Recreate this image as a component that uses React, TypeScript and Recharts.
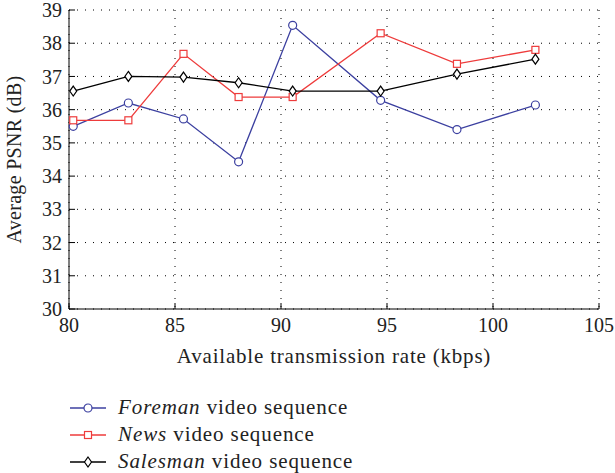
import { CartesianGrid, Line, LineChart, XAxis, YAxis } from "recharts";

const rates = [80.2, 82.8, 85.4, 88.0, 90.55, 94.7, 98.3, 102.0];
const foreman = [35.5, 36.2, 35.72, 34.43, 38.54, 36.28, 35.4, 36.14];
const news = [35.68, 35.68, 37.68, 36.38, 36.38, 38.3, 37.38, 37.8];
const salesman = [36.56, 37.0, 36.98, 36.81, 36.56, 36.56, 37.07, 37.52];

const xTicks = [80, 85, 90, 95, 100, 105];
const yTicks = [30, 31, 32, 33, 34, 35, 36, 37, 38, 39];

const BLUE = "#3c40a0";
const RED = "#ee3b3b";
const BLACK = "#000000";
const FONT = "Liberation Serif";
const TEXT = "#222";

const data = rates.map((rate, i) => ({
  rate,
  foreman: foreman[i],
  news: news[i],
  salesman: salesman[i],
}));

const circleDot = (props: any) => {
  const { cx, cy, index } = props;
  if (cx == null || cy == null) return <g key={index} />;
  return <circle key={index} cx={cx} cy={cy} r={4} fill="#fff" stroke={BLUE} strokeWidth={1.2} />;
};

const squareDot = (props: any) => {
  const { cx, cy, index } = props;
  if (cx == null || cy == null) return <g key={index} />;
  return <rect key={index} x={cx - 3.5} y={cy - 3.5} width={7} height={7} fill="#fff" stroke={RED} strokeWidth={1.2} />;
};

const diamondDot = (props: any) => {
  const { cx, cy, index } = props;
  if (cx == null || cy == null) return <g key={index} />;
  return (
    <path
      key={index}
      d={`M${cx},${cy - 5} L${cx + 3.5},${cy} L${cx},${cy + 5} L${cx - 3.5},${cy} Z`}
      fill="#fff"
      stroke={BLACK}
      strokeWidth={1.2}
    />
  );
};

const legendItems = [
  { name: "Foreman", color: BLUE, marker: "circle" },
  { name: "News", color: RED, marker: "square" },
  { name: "Salesman", color: BLACK, marker: "diamond" },
];

function LegendMarker({ color, marker }: { color: string; marker: string }) {
  return (
    <svg width={36} height={14} style={{ display: "block" }}>
      <line x1={0} y1={7} x2={36} y2={7} stroke={color} strokeWidth={1.3} />
      {marker === "circle" && <circle cx={18} cy={7} r={4} fill="#fff" stroke={color} strokeWidth={1.2} />}
      {marker === "square" && <rect x={14.5} y={3.5} width={7} height={7} fill="#fff" stroke={color} strokeWidth={1.2} />}
      {marker === "diamond" && <path d="M18,2 L21.5,7 L18,12 L14.5,7 Z" fill="#fff" stroke={color} strokeWidth={1.2} />}
    </svg>
  );
}

const yLabel = (props: any) => {
  const vb = props.viewBox || {};
  const x = (vb.x || 0) + 16;
  const y = (vb.y || 0) + (vb.height || 0) / 2;
  return (
    <text
      x={x}
      y={y}
      transform={`rotate(-90 ${x} ${y})`}
      textAnchor="middle"
      dominantBaseline="middle"
      fill={TEXT}
      style={{ fontFamily: FONT, fontSize: 20, letterSpacing: 0.3 }}
    >
      Average PSNR (dB)
    </text>
  );
};

export default function App() {
  return (
    <div style={{ position: "absolute", left: 0, top: 0, width: 615, height: 473, background: "#fff" }}>
      <LineChart width={615} height={380} data={data} margin={{ top: 10, right: 16, left: 0, bottom: 0 }}>
        <CartesianGrid stroke="#000" strokeDasharray="1 7" strokeWidth={1} />
        <XAxis
          dataKey="rate"
          type="number"
          domain={[80, 105]}
          ticks={xTicks}
          interval={0}
          height={71}
          tickSize={-6}
          tickMargin={15}
          axisLine={{ stroke: "#000" }}
          tickLine={{ stroke: "#000" }}
          tick={{ fill: TEXT, fontSize: 20, style: { fontFamily: FONT } }}
          label={{
            value: "Available transmission rate (kbps)",
            position: "insideBottom",
            offset: 17,
            fill: TEXT,
            fontSize: 21,
            style: { fontFamily: FONT, letterSpacing: 0.8 },
          }}
        />
        <XAxis
          xAxisId="top"
          orientation="top"
          type="number"
          domain={[80, 105]}
          ticks={xTicks}
          interval={0}
          height={0}
          tickSize={-6}
          tick={false}
          axisLine={{ stroke: "#000" }}
          tickLine={{ stroke: "#000" }}
        />
        <YAxis
          type="number"
          domain={[30, 39]}
          ticks={yTicks}
          interval={0}
          width={69}
          tickSize={-6}
          tickMargin={13}
          axisLine={{ stroke: "#000" }}
          tickLine={{ stroke: "#000" }}
          tick={{ fill: TEXT, fontSize: 20, style: { fontFamily: FONT } }}
          label={{ content: yLabel }}
        />
        <YAxis
          yAxisId="right"
          orientation="right"
          type="number"
          domain={[30, 39]}
          ticks={yTicks}
          interval={0}
          width={0}
          tickSize={-6}
          tick={false}
          axisLine={{ stroke: "#000" }}
          tickLine={{ stroke: "#000" }}
        />
        <Line dataKey="foreman" stroke={BLUE} strokeWidth={1.3} dot={circleDot} isAnimationActive={false} />
        <Line dataKey="news" stroke={RED} strokeWidth={1.3} dot={squareDot} isAnimationActive={false} />
        <Line dataKey="salesman" stroke={BLACK} strokeWidth={1.3} dot={diamondDot} isAnimationActive={false} />
      </LineChart>
      <div
        style={{
          position: "absolute",
          left: 70,
          top: 394,
          fontSize: 21,
          color: TEXT,
          fontFamily: FONT,
          letterSpacing: 0.9,
        }}
      >
        {legendItems.map((item) => (
          <div key={item.name} style={{ display: "flex", alignItems: "center", height: 27 }}>
            <LegendMarker color={item.color} marker={item.marker} />
            <span style={{ marginLeft: 12 }}>
              <i>{item.name}</i> video sequence
            </span>
          </div>
        ))}
      </div>
    </div>
  );
}
